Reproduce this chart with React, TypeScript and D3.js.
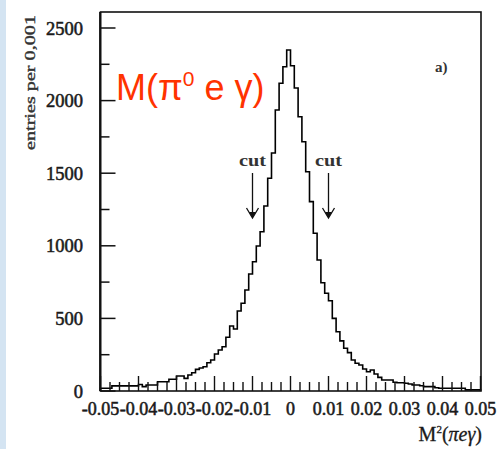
import React from "react";
import * as d3 from "d3";

// ---- data ----
const binStart = -0.05;
const binWidth = 0.001;
const counts: number[] = [
  19, 19, 19, 35, 35, 35, 35, 35, 35, 35, // -0.050 .. -0.041
  45, 30, 41, 41, 41, 64, 64, 64, 81, 81, // -0.040 .. -0.031
  103, 103, 87, 110, 126, 149, 158, 167, 195, 213, // -0.030 .. -0.021
  255, 282, 305, 370, 448, 427, 551, 604, 696, 806, // -0.020 .. -0.011
  890, 999, 1097, 1274, 1465, 1639, 1935, 2119, 2233, 2348, // -0.010 .. -0.001
  2240, 2087, 1889, 1717, 1510, 1304, 1086, 902, 746, 673, // 0.000 .. 0.009
  622, 500, 408, 345, 294, 264, 213, 191, 179, 152, // 0.010 .. 0.019
  133, 145, 117, 94, 76, 76, 76, 60, 57, 57, // 0.020 .. 0.029
  53, 48, 41, 41, 36, 30, 30, 30, 22, 19, // 0.030 .. 0.039
  19, 19, 19, 19, 19, 19, 8, 8, 8, 8, // 0.040 .. 0.049
];
const xMajorTicks = [-0.05, -0.04, -0.03, -0.02, -0.01, 0, 0.01, 0.02, 0.03, 0.04, 0.05];
const xTickLabels = ["-0.05", "-0.04", "-0.03", "-0.02", "-0.01", "0", "0.01", "0.02", "0.03", "0.04", "0.05"];
const yMajorTicks = [0, 500, 1000, 1500, 2000, 2500];
const yMinorTicks = [250, 750, 1250, 1750, 2250];
const cutPositions = [-0.01, 0.01];

export default function App() {
  const left = 100.5;
  const right = 480.5;
  const frameRight = 481;
  const frameTop = 12;
  const x = d3.scaleLinear().domain([-0.05, 0.05]).range([left, right]);
  const y = d3.scaleLinear().domain([0, 2500]).range([391, 28]);

  const xMinor = d3.range(0, 41).map((i) => -0.05 + i * 0.0025);

  const pts: [number, number][] = [[binStart, 0]];
  counts.forEach((c, i) => {
    const e0 = binStart + i * binWidth;
    const e1 = binStart + (i + 1) * binWidth;
    pts.push([e0, c], [e1, c]);
  });
  pts.push([binStart + counts.length * binWidth, 0]);
  const line = d3
    .line<[number, number]>()
    .x((d) => x(d[0]))
    .y((d) => y(d[1]));

  const serif = "'Liberation Serif', 'Times New Roman', serif";
  const y0 = y(0);
  const ink = "#1a1a1a";

  return (
    <svg
      width={501}
      height={449}
      style={{ position: "absolute", left: 0, top: 0, background: "#ffffff" }}
    >
      <rect x={0} y={0} width={501} height={449} fill="#ffffff" />
      <rect x={0} y={0} width={6} height={449} fill="#d4e4f2" />

      {/* histogram */}
      <path d={line(pts) || ""} fill="none" stroke="#000" strokeWidth={1.6} strokeLinejoin="miter" />

      {/* frame */}
      <rect
        x={left}
        y={frameTop}
        width={frameRight - left}
        height={y0 - frameTop}
        fill="none"
        stroke="#111"
        strokeWidth={1.6}
      />
      <line x1={left - 0.3} x2={left - 0.3} y1={frameTop} y2={y0} stroke="#111" strokeWidth={2.2} />

      {/* y ticks */}
      {yMajorTicks.map((t) => (
        <g key={"ym" + t}>
          <line x1={left} x2={left + 15} y1={y(t)} y2={y(t)} stroke="#111" strokeWidth={1.5} />
          <text
            x={83}
            y={y(t) + 6.5}
            textAnchor="end"
            fontFamily={serif}
            fontSize={18.5}
            fill={ink}
            stroke={ink}
            strokeWidth={0.55}
          >
            {t}
          </text>
        </g>
      ))}
      {yMinorTicks.map((t) => (
        <line key={"yn" + t} x1={left} x2={left + 9} y1={y(t)} y2={y(t)} stroke="#111" strokeWidth={1.5} />
      ))}

      {/* x ticks */}
      {xMinor.map((t, i) => (
        <line
          key={"xn" + i}
          x1={x(t)}
          x2={x(t)}
          y1={y0}
          y2={y0 - (i % 4 === 0 ? 15 : 9)}
          stroke="#111"
          strokeWidth={1.4}
        />
      ))}
      {xMajorTicks.map((t, i) => (
        <text
          key={"xl" + i}
          x={x(t)}
          y={415}
          textAnchor="middle"
          fontFamily={serif}
          fontSize={18}
          fill={ink}
          stroke={ink}
          strokeWidth={0.55}
        >
          {xTickLabels[i]}
        </text>
      ))}

      {/* axis titles */}
      <text x={482} y={441} textAnchor="end" fontFamily={serif} fontSize={20} fill={ink} stroke={ink} strokeWidth={0.3}>
        M<tspan dy={-8} fontSize={11}>2</tspan>
        <tspan dy={8}>(</tspan>
        <tspan fontStyle="italic">πeγ</tspan>)
      </text>
      <text
        transform="translate(35,150) rotate(-90)"
        x={0}
        y={0}
        fontFamily={serif}
        fontSize={14}
        fill="#333"
        stroke="#333"
        strokeWidth={0.35}
        textLength={135}
        lengthAdjust="spacingAndGlyphs"
      >
        entries per 0,001
      </text>

      {/* red label */}
      <text x={116} y={100} fontFamily="'Liberation Sans', Arial, sans-serif" fontSize={36} fill="#ff3300">
        M(π<tspan dy={-14} fontSize={21}>0</tspan>
        <tspan dy={14}> e γ)</tspan>
      </text>

      {/* a) */}
      <text x={435} y={72} fontFamily={serif} fontSize={15} fontWeight="bold" fill="#333">
        a)
      </text>

      {/* cuts */}
      {cutPositions.map((c) => {
        const cx = x(c);
        const tipY = 218;
        return (
          <g key={"cut" + c}>
            <text
              x={cx}
              y={166}
              textAnchor="middle"
              fontFamily={serif}
              fontSize={16}
              fontWeight="bold"
              fill="#333"
              textLength={27}
              lengthAdjust="spacingAndGlyphs"
            >
              cut
            </text>
            <line x1={cx} x2={cx} y1={173} y2={tipY - 1} stroke="#111" strokeWidth={1.3} />
            <path
              d={`M${cx - 6},${tipY - 10} L${cx},${tipY} L${cx + 6},${tipY - 10}`}
              fill="none"
              stroke="#111"
              strokeWidth={1.3}
            />
            <path
              d={`M${cx - 3.5},${tipY - 6} L${cx},${tipY} L${cx + 3.5},${tipY - 6} Z`}
              fill="#111"
            />
          </g>
        );
      })}
    </svg>
  );
}
